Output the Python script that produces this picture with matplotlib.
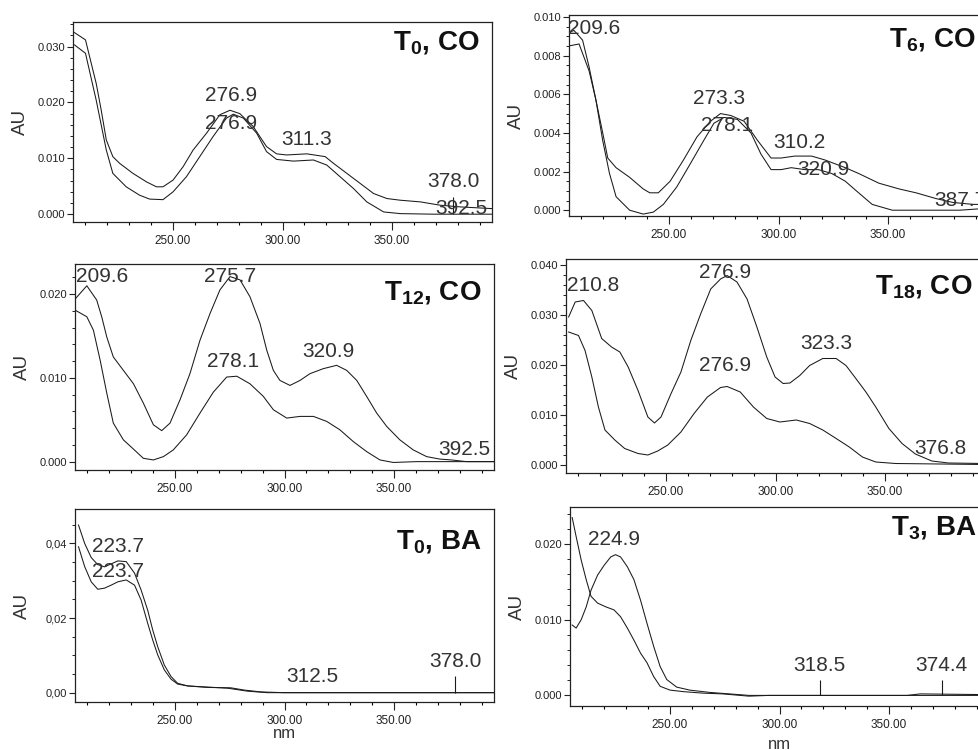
# UV spectra panels (T0/T6/T12/T18 CO, T0/T3 BA)

# -------------------- Libraries --------------------
import matplotlib
matplotlib.use("Agg")
import matplotlib.pyplot as plt
from matplotlib.ticker import MultipleLocator, FormatStrFormatter, FuncFormatter
# ---------------------------------------------------

plt.rcParams['font.family'] = ['Liberation Sans', 'DejaVu Sans']
plt.rcParams['mathtext.fontset'] = 'custom'
plt.rcParams['mathtext.rm'] = 'Liberation Sans'
plt.rcParams['mathtext.bf'] = 'Liberation Sans:bold'

# -------------------- Data --------------------
# T0, CO
t0co_nm_a = [205, 210, 214.9, 217.2, 219.5, 222.5, 225.6, 231.7, 237.8, 242.4, 245.4, 250, 254.6, 259.2,
             265.3, 271.4, 276, 280.5, 286.6, 292.7, 297.3, 301.9, 311.1, 319.5, 323.3, 329.4, 335.5,
             341.6, 347.7, 353.8, 363, 372.1, 381.3, 395.5]
t0co_au_a = [0.0325, 0.0312, 0.0234, 0.0186, 0.0133, 0.0103, 0.0091, 0.0073, 0.0058, 0.0049, 0.0049,
             0.0061, 0.0085, 0.0115, 0.0145, 0.0178, 0.0186, 0.018, 0.0157, 0.0121, 0.0108, 0.0106,
             0.0108, 0.0103, 0.0091, 0.0073, 0.0055, 0.0037, 0.0028, 0.0025, 0.0022, 0.0016, 0.0013, 0.001]
t0co_nm_b = [205, 210, 214.9, 219.5, 222.5, 228.6, 234.7, 239.3, 245.4, 250, 256.1, 262.2, 268.3, 274.4,
             277.5, 282.1, 288.2, 292.7, 297.3, 305, 314.1, 320.2, 326.3, 332.4, 338.5, 346.2, 353.8,
             369.1, 395.5]
t0co_au_b = [0.0303, 0.0288, 0.0204, 0.0115, 0.0073, 0.0049, 0.0034, 0.0027, 0.0026, 0.004, 0.0067,
             0.0103, 0.0139, 0.0172, 0.0179, 0.0172, 0.0145, 0.0112, 0.0098, 0.0095, 0.0097, 0.0088,
             0.0067, 0.0046, 0.0022, 0.0004, 0.0001, 0.0, 0.0]

# T6, CO
t6co_nm_a = [204.3, 208.9, 213.5, 216.6, 219.7, 222, 225.8, 232, 238.2, 241.2, 245.1, 250.5, 256.6,
             262.8, 268.9, 273.5, 278.2, 284.3, 290.5, 296.6, 301.2, 307.4, 315.1, 321.2, 330.5, 336.6,
             345.8, 355.1, 362.8, 372, 379.7, 388.9, 395.5]
t6co_au_a = [0.0085, 0.0086, 0.0072, 0.0057, 0.004, 0.0027, 0.0022, 0.0017, 0.0011, 0.0009, 0.0009,
             0.0015, 0.0026, 0.0038, 0.0046, 0.005, 0.0049, 0.0046, 0.0036, 0.0027, 0.0027, 0.0028,
             0.0028, 0.0026, 0.0022, 0.0019, 0.0014, 0.0011, 0.0009, 0.0006, 0.0004, 0.0003, 0.0003]
t6co_nm_b = [204.3, 206.6, 210.5, 213.5, 216.6, 219.7, 222.8, 225.8, 232, 238.2, 242.8, 247.4, 253.5,
             259.7, 265.8, 270.5, 275.1, 281.2, 287.4, 292, 296.6, 301.2, 305.8, 312, 318.2, 324.3,
             330.5, 336.6, 342.8, 352, 367.4, 382.8, 395.5]
t6co_au_b = [0.0092, 0.0093, 0.0088, 0.0074, 0.0057, 0.0036, 0.0019, 0.0007, 0.0, -0.0002, -0.0001,
             0.0003, 0.0012, 0.0024, 0.0036, 0.0045, 0.0048, 0.0047, 0.004, 0.0029, 0.0021, 0.0021,
             0.0022, 0.0021, 0.0021, 0.0019, 0.0015, 0.0009, 0.0003, 0.0, 0.0, 0.0, 0.0001]

# T12, CO
t12co_nm_a = [204.3, 209.7, 214.2, 216.5, 218.8, 221.8, 226.4, 231, 235.5, 240.1, 243.9, 247.7, 252.3,
              256.8, 261.4, 266, 270.5, 275.1, 279.7, 284.2, 288.8, 291.9, 294.9, 297.9, 302.5, 307.1,
              311.6, 317.7, 323.8, 328.4, 333, 337.5, 342.1, 346.7, 352.7, 358.8, 364.9, 371, 376.3,
              383.1, 395.5]
t12co_au_a = [0.0194, 0.021, 0.0193, 0.0173, 0.0149, 0.0125, 0.0109, 0.0093, 0.007, 0.0044, 0.0037,
              0.0046, 0.0074, 0.0105, 0.0145, 0.0177, 0.0205, 0.0221, 0.0217, 0.0197, 0.0165, 0.0133,
              0.0109, 0.0097, 0.0091, 0.0097, 0.0105, 0.0111, 0.0115, 0.0109, 0.0097, 0.0078, 0.0058,
              0.0042, 0.0026, 0.0014, 0.0006, 0.0003, 0.0002, 0.0, 0.0]
t12co_nm_b = [204.3, 209.7, 212.7, 215.8, 218.8, 221.8, 226.4, 231, 235.5, 240.1, 244.7, 249.2, 255.3,
              261.4, 267.5, 273.6, 278.2, 284.2, 290.3, 294.9, 301, 307.1, 313.2, 319.3, 325.3, 331.4,
              337.5, 343.6, 349.7, 360.3, 395.5]
t12co_au_b = [0.0181, 0.0173, 0.0157, 0.0121, 0.0082, 0.0046, 0.0026, 0.0015, 0.0004, 0.0002, 0.0006,
              0.0014, 0.0032, 0.0058, 0.0083, 0.0101, 0.0102, 0.0093, 0.0078, 0.0062, 0.0052, 0.0054,
              0.0054, 0.0048, 0.0038, 0.0024, 0.0012, 0.0002, -0.0001, 0.0, 0.0]

# T18, CO
t18co_nm_a = [205.5, 208.5, 212.3, 216.1, 220.6, 225.1, 228.9, 232.7, 237.2, 241.7, 244.7, 247.7,
              252.3, 256.8, 261.3, 265.8, 270.4, 274.9, 277.9, 282.4, 287, 291.5, 296, 299.8, 303.5,
              306.6, 311.1, 315.6, 321.6, 327.7, 332.2, 336.7, 341.3, 345.8, 351.8, 357.8, 363.9,
              371.4, 379, 395.5]
t18co_au_a = [0.0295, 0.0325, 0.0328, 0.0308, 0.0252, 0.0235, 0.0225, 0.0195, 0.0148, 0.0095, 0.0083,
              0.0095, 0.0142, 0.0185, 0.0248, 0.0301, 0.0351, 0.0371, 0.0378, 0.0365, 0.0331, 0.0275,
              0.0215, 0.0175, 0.0162, 0.0163, 0.0178, 0.0198, 0.0212, 0.0212, 0.0198, 0.0172, 0.0145,
              0.0115, 0.0072, 0.0042, 0.0021, 0.0007, 0.0003, 0.0002]
t18co_nm_b = [205.5, 210, 213, 216.1, 219.1, 222.1, 226.6, 231.1, 237.2, 241.7, 246.2, 250.8, 256.8,
              262.8, 268.9, 274.9, 277.9, 283.9, 289.9, 296, 302, 309.5, 315.6, 321.6, 327.7, 333.7,
              339.7, 345.8, 354.8, 395.5]
t18co_au_b = [0.0265, 0.0258, 0.0228, 0.0175, 0.0115, 0.0069, 0.0049, 0.0032, 0.0022, 0.0019, 0.0027,
              0.0039, 0.0065, 0.0102, 0.0135, 0.0154, 0.0156, 0.0145, 0.0115, 0.0092, 0.0085, 0.0089,
              0.0082, 0.0069, 0.0052, 0.0035, 0.0015, 0.0005, 0.0002, 0.0]

# T0, BA
t0ba_nm_a = [205.9, 208.7, 211.7, 214.7, 217.8, 220.8, 223.9, 227.7, 231.5, 234.5, 237.5, 239.8, 242.1,
             245.1, 248.2, 251.2, 255.8, 264.9, 275.5, 281.6, 289.2, 299.8, 395.5]
t0ba_au_a = [0.0449, 0.04, 0.0362, 0.0343, 0.0337, 0.0345, 0.0353, 0.0351, 0.032, 0.0275, 0.0221,
             0.0168, 0.0123, 0.0074, 0.0043, 0.0025, 0.0018, 0.0014, 0.0013, 0.0007, 0.0002, 0.0, 0.0]
t0ba_nm_b = [205.9, 208.7, 211.7, 214.7, 217.8, 220.8, 223.9, 227.7, 231.5, 234.5, 237.5, 239.8, 242.1,
             245.1, 248.2, 251.2, 255.8, 274, 283.1, 292.2, 395.5]
t0ba_au_b = [0.0391, 0.0338, 0.0297, 0.0277, 0.028, 0.0288, 0.0297, 0.0302, 0.0288, 0.0248, 0.0186,
             0.0141, 0.0101, 0.0061, 0.0036, 0.0023, 0.0018, 0.0012, 0.0004, 0.0, 0.0]

# T3, BA
t3ba_nm_a = [205.3, 207.1, 209.4, 211.7, 213.9, 216.9, 220.7, 224.4, 227.4, 230.5, 233.5, 236.5, 239.5,
             242.5, 245.5, 250, 256, 265, 274.1, 286.1, 295.1, 358.3, 364.3, 395.5]
t3ba_au_a = [0.0235, 0.021, 0.0179, 0.0153, 0.0131, 0.0122, 0.0117, 0.0113, 0.0104, 0.0089, 0.0073,
             0.0056, 0.0043, 0.0025, 0.0012, 0.0007, 0.0005, 0.0003, 0.0002, -0.0001, 0.0, 0.0, 0.0002,
             0.0001]
t3ba_nm_b = [205.3, 207.1, 209.4, 211.7, 213.9, 216.9, 219.9, 222.9, 225.1, 227.4, 230.5, 233.5, 236.5,
             239.5, 242.5, 245.5, 248.5, 253, 259, 268, 277.1, 286.1, 395.5]
t3ba_au_b = [0.0093, 0.0089, 0.01, 0.0117, 0.0139, 0.0159, 0.0172, 0.0183, 0.0186, 0.0183, 0.017,
             0.0153, 0.0126, 0.0095, 0.0065, 0.0038, 0.0021, 0.0011, 0.0007, 0.0004, 0.0002, 0.0, 0.0]

# peak labels: text, wavelength, absorbance where the label sits
t0co_peaks = ["276.9", "276.9", "311.3", "378.0", "392.5"]
t0co_peak_nm = [276.4, 276.4, 311.0, 378.3, 381.8]
t0co_peak_au = [0.0212, 0.0163, 0.0133, 0.0058, 0.0010]

t6co_peaks = ["209.6", "273.3", "278.1", "310.2", "320.9", "387.7"]
t6co_peak_nm = [216.0, 272.8, 276.6, 309.7, 320.5, 383.2]
t6co_peak_au = [0.0094, 0.0058, 0.0044, 0.0035, 0.0021, 0.0005]

t12co_peaks = ["209.6", "275.7", "320.9", "278.1", "392.5"]
t12co_peak_nm = [216.5, 275.1, 320.0, 276.6, 382.1]
t12co_peak_au = [0.0221, 0.0221, 0.0131, 0.0119, 0.0015]

t18co_peaks = ["210.8", "276.9", "323.3", "276.9", "376.8"]
t18co_peak_nm = [216.8, 277.1, 323.2, 277.1, 375.2]
t18co_peak_au = [0.0358, 0.0385, 0.0242, 0.0198, 0.0032]

t0ba_peaks = ["223.7", "223.7", "312.5", "378.0"]
t0ba_peak_nm = [223.9, 223.9, 312.8, 378.1]
t0ba_peak_au = [0.0391, 0.0324, 0.0043, 0.0083]

t3ba_peaks = ["224.9", "318.5", "374.4"]
t3ba_peak_nm = [224.4, 318.4, 374.0]
t3ba_peak_au = [0.0206, 0.0040, 0.0040]

# peak marker sticks: wavelength, top absorbance
t0co_marks = [378.0]
t0co_mark_top = [0.0031]
t0ba_marks = [378.0]
t0ba_mark_top = [0.0045]
t3ba_marks = [318.5, 374.4]
t3ba_mark_top = [0.0021, 0.0021]

titles = ["0", "6", "12", "18", "0", "3"]
samples = ["CO", "CO", "CO", "CO", "BA", "BA"]
# ---------------------------------------------------

# ---------------- Layout (pixels) ----------------
W, H = 979, 750
AX_W = 419
# left, top, bottom of each plot frame
boxes = [(73, 22, 222), (569, 15, 216),
         (75, 264, 470), (566, 259, 473),
         (75, 509, 702), (570, 507, 706)]
ylims = [(-0.0014, 0.0344), (-0.0003, 0.0101), (-0.0010, 0.0236),
         (-0.0017, 0.0411), (-0.0025, 0.0492), (-0.0014, 0.0249)]
ymajor = [0.010, 0.002, 0.010, 0.010, 0.02, 0.010]
yminor = [0.002, 0.0005, 0.002, 0.002, 0.005, 0.002]
title_drop = [21, 25, 29, 28, 33, 21]
nm_baseline = [738, 749]
XLIM = (204.3, 395.7)

panels = [
    (t0co_nm_a, t0co_au_a, t0co_nm_b, t0co_au_b, t0co_peaks, t0co_peak_nm, t0co_peak_au, t0co_marks, t0co_mark_top),
    (t6co_nm_a, t6co_au_a, t6co_nm_b, t6co_au_b, t6co_peaks, t6co_peak_nm, t6co_peak_au, [], []),
    (t12co_nm_a, t12co_au_a, t12co_nm_b, t12co_au_b, t12co_peaks, t12co_peak_nm, t12co_peak_au, [], []),
    (t18co_nm_a, t18co_au_a, t18co_nm_b, t18co_au_b, t18co_peaks, t18co_peak_nm, t18co_peak_au, [], []),
    (t0ba_nm_a, t0ba_au_a, t0ba_nm_b, t0ba_au_b, t0ba_peaks, t0ba_peak_nm, t0ba_peak_au, t0ba_marks, t0ba_mark_top),
    (t3ba_nm_a, t3ba_au_a, t3ba_nm_b, t3ba_au_b, t3ba_peaks, t3ba_peak_nm, t3ba_peak_au, t3ba_marks, t3ba_mark_top),
]

line_col = '#1a1a1a'
text_col = '#333333'

fig = plt.figure(figsize=(W / 100, H / 100), dpi=100)

for i, p in enumerate(panels):
    nm_a, au_a, nm_b, au_b, labs, lab_nm, lab_au, marks, mark_top = p
    x0, top, bot = boxes[i]
    ax = fig.add_axes([x0 / W, 1 - bot / H, AX_W / W, (bot - top) / H])

    ax.plot(nm_a, au_a, color=line_col, lw=0.75)
    ax.plot(nm_b, au_b, color=line_col, lw=0.75)
    if marks:
        ax.vlines(marks, 0, mark_top, color=line_col, lw=0.8)

    for t, xn, ya in zip(labs, lab_nm, lab_au):
        ax.text(xn, ya, t, fontsize=15, color=text_col, ha='center', va='center')

    # panel title, e.g. T0, CO
    ax.annotate(r'$\mathbf{T_{%s}}$, %s' % (titles[i], samples[i]),
                xy=(1, 1), xycoords='axes fraction',
                xytext=(-9, -title_drop[i] / 1.389), textcoords='offset points',
                ha='right', va='center', fontsize=20, fontweight='bold', color='#111111')

    ax.set_xlim(*XLIM)
    ax.set_ylim(*ylims[i])
    ax.xaxis.set_major_locator(MultipleLocator(50))
    ax.xaxis.set_minor_locator(MultipleLocator(10))
    ax.xaxis.set_major_formatter(FormatStrFormatter('%.2f'))
    ax.yaxis.set_major_locator(MultipleLocator(ymajor[i]))
    ax.yaxis.set_minor_locator(MultipleLocator(yminor[i]))
    if i == 4:
        ax.yaxis.set_major_formatter(FuncFormatter(lambda v, pos: ('%.2f' % v).replace('.', ',')))
    else:
        ax.yaxis.set_major_formatter(FormatStrFormatter('%.3f'))

    ax.tick_params(axis='x', which='major', length=6, width=0.8, pad=3 if i >= 4 else 3.5,
                   labelsize=8.5, colors='#222222')
    ax.tick_params(axis='x', which='minor', length=2.5, width=0.8)
    ax.tick_params(axis='y', which='major', length=4, width=0.8, pad=1.5, labelsize=8,
                   colors='#222222')
    ax.tick_params(axis='y', which='minor', length=2, width=0.6)
    for s in ax.spines.values():
        s.set_linewidth(0.9)
        s.set_color('#222222')

    ax.set_ylabel('AU', fontsize=13.5, color=text_col)
    ax.yaxis.set_label_coords(-44 / AX_W, 0.5)

    if i >= 4:
        fig.text((x0 + AX_W / 2) / W, 1 - nm_baseline[i - 4] / H, 'nm',
                 fontsize=12, color=text_col, ha='center', va='baseline')

fig.savefig('out.png', dpi=100)
